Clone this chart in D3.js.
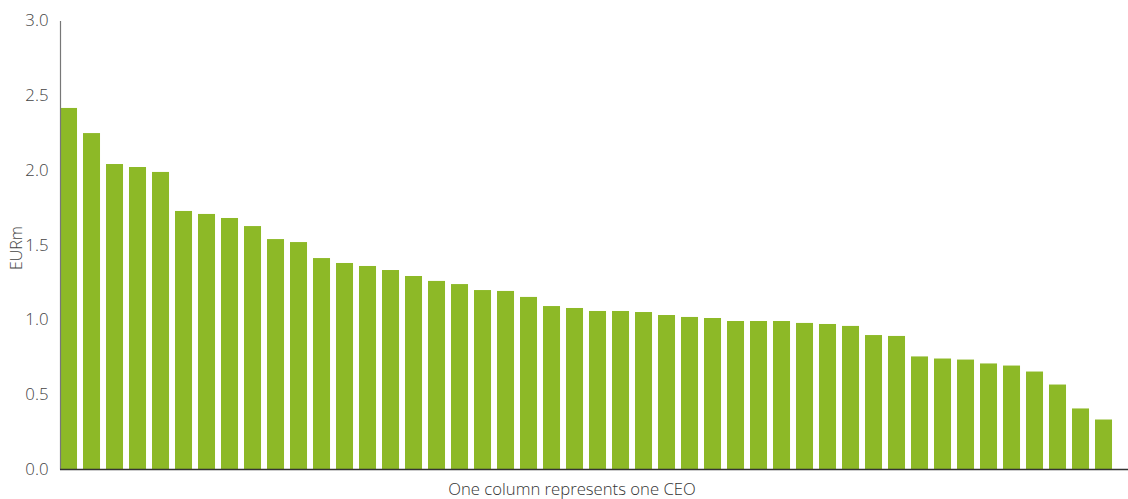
<!DOCTYPE html>
<html><head><meta charset="utf-8">
<script src="https://cdn.jsdelivr.net/npm/d3@7"></script>
<style>body{margin:0;background:#fff}svg{display:block}text{font-family:"Open Sans",sans-serif}</style>
</head><body><svg id="c" width="1128" height="499"></svg>
<script>
const ceos = d3.range(1, 47).map(i => "CEO " + i);
const pay = [2.415,2.247,2.04,2.02,1.987,1.726,1.706,1.679,1.625,1.538,1.518,1.411,1.378,1.358,1.331,1.291,1.258,1.237,1.197,1.191,1.151,1.09,1.077,1.057,1.057,1.05,1.03,1.017,1.01,0.99,0.99,0.99,0.977,0.97,0.957,0.896,0.89,0.753,0.739,0.732,0.706,0.692,0.652,0.565,0.405,0.331];
const yTicks = [0,0.5,1.0,1.5,2.0,2.5,3.0];
const yLabel = "EURm";
const xLabel = "One column represents one CEO";

const svg = d3.select("#c");
const x0 = 60, yBase = 469, yTop = 20.5;
const x = d3.scaleBand().domain(ceos).range([x0, x0 + 23*(46-0.26)]).paddingInner(0.26).paddingOuter(0);
const y = d3.scaleLinear().domain([0,3]).range([yBase, yTop]);

svg.append("g").selectAll("rect").data(pay).join("rect")
  .attr("x",(d,i)=>x(ceos[i])).attr("width",x.bandwidth())
  .attr("y",d=>y(d)).attr("height",d=>yBase-y(d)).attr("fill","#8db927");

const ya = svg.append("g").attr("transform",`translate(${x0},0)`)
  .call(d3.axisLeft(y).tickValues(yTicks).tickFormat(d3.format(".1f")).tickSize(0).tickPadding(11.5));
ya.select(".domain").attr("stroke","#777").attr("stroke-width",1.2);
ya.selectAll("text").attr("font-size",16.8).attr("fill","#444").attr("font-weight",300);

svg.append("line").attr("x1",x0).attr("x2",1128).attr("y1",yBase+0.5).attr("y2",yBase+0.5)
  .attr("stroke","#333").attr("stroke-width",1.5);

svg.append("text").attr("transform",`translate(22,248) rotate(-90)`).attr("text-anchor","middle")
  .attr("font-size",16).attr("fill","#444").attr("font-weight",300).text(yLabel);
svg.append("text").attr("x",572).attr("y",495).attr("text-anchor","middle")
  .attr("font-size",16.7).attr("fill","#333").attr("font-weight",300).text(xLabel);
</script></body></html>
